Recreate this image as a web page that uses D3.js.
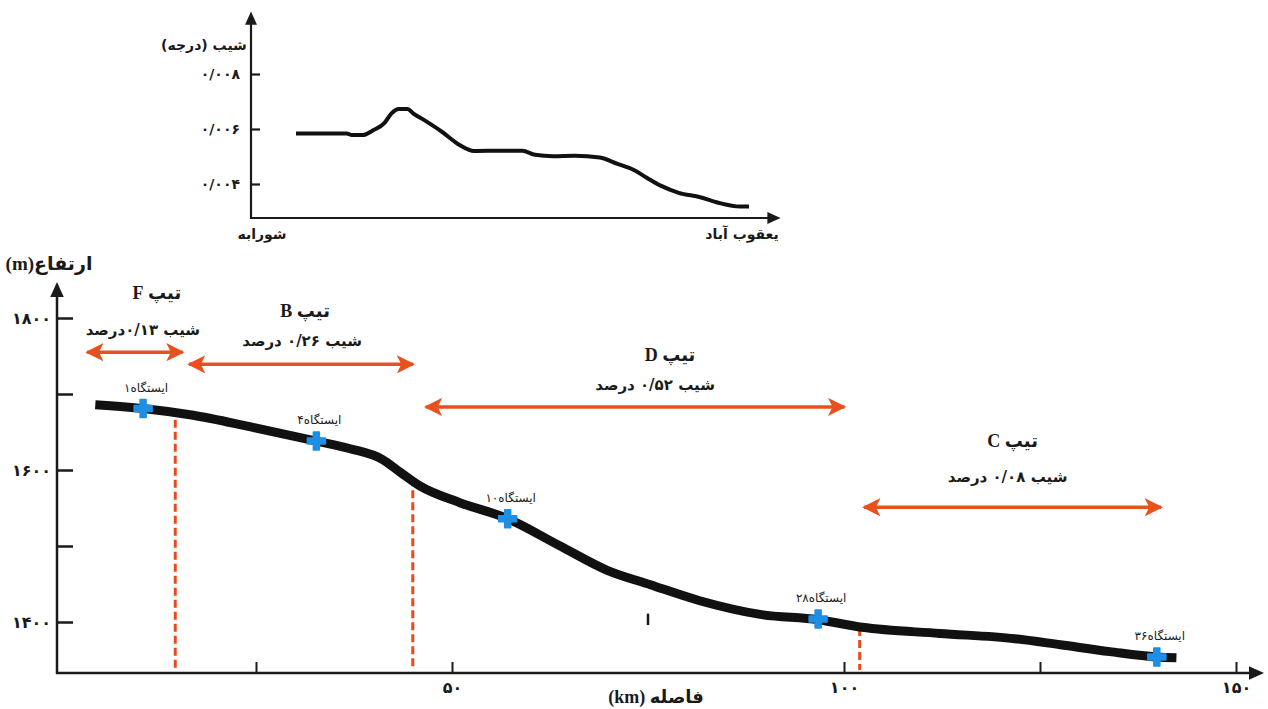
<!DOCTYPE html>
<html>
<head>
<meta charset="utf-8">
<script src="https://cdn.jsdelivr.net/npm/d3@7"></script>
<style>
  body { margin: 0; background: #fff; }
  svg { display: block; font-family: "Liberation Serif", "DejaVu Sans", serif; }
  .fa { direction: rtl; }
</style>
</head>
<body>
<div id="chart"></div>
<script>
// ---------------------------------------------
// ---------          Data             ---------
// ---------------------------------------------

// longitudinal profile (distance km, elevation m)
const profileKm   = [4.5, 10.6, 17.0, 24.2, 32.7, 37.0, 41.1, 43.4, 45.9, 51.0, 57.1, 63.8, 69.8, 75.3, 81.6, 89.3, 96.7, 102.3, 112.2, 121.8, 127.6, 133.9, 139.9, 142.4];
const profileElev = [1686, 1681, 1672, 1657, 1638, 1628, 1614, 1597, 1579, 1557, 1536, 1500, 1468, 1449, 1428, 1410, 1403, 1393, 1385, 1378, 1370, 1361, 1354, 1353];

// stations
const stationNames = ["ایستگاه۱", "ایستگاه۴", "ایستگاه۱۰", "ایستگاه۲۸", "ایستگاه۳۶"];
const stationKm    = [10.6, 32.7, 57.1, 96.7, 139.9];
const stationElev  = [1681, 1638, 1536, 1404, 1354];

// river types (segments)
const segTypes  = ["F", "B", "D", "C"];
const segSlope  = [0.13, 0.26, 0.52, 0.08];
const segStart  = [3.2, 16.2, 46.4, 102.3];
const segEnd    = [15.9, 45.3, 100.3, 140.7];
const segElev   = [1755, 1739, 1683, 1551];

// boundaries between types
const boundaryKm  = [14.7, 45.0, 102.0];
const boundaryTop = [1666, 1589, 1392];

// axis ticks
const xTicks = [25, 50, 100, 125, 150];
const xLabeled = [50, 100, 150];
const yTicks = [1400, 1500, 1600, 1700, 1800];
const yLabeled = [1400, 1600, 1800];
const strayTickKm = 75;

// inset: slope (degree) along the river
const insetKm    = [4.5, 20.0, 21.6, 24.9, 28.2, 31.5, 33.7, 35.9, 38.6, 40.3, 43.6, 49.1, 54.5, 58.9, 67.7, 73.7, 77.6, 83.1, 89.7, 97.4, 102.8, 107.8, 111.6, 116.0, 121.5, 128.1, 133.6, 140.2, 143.0];
const insetSlope = [0.00584, 0.00584, 0.00578, 0.00578, 0.00596, 0.00621, 0.00657, 0.00673, 0.00673, 0.00657, 0.00633, 0.00590, 0.00542, 0.00520, 0.00521, 0.00521, 0.00506, 0.00501, 0.00503, 0.00496, 0.00473, 0.00451, 0.00424, 0.00394, 0.00368, 0.00352, 0.00332, 0.00318, 0.00318];
const insetTicks = [0.004, 0.006, 0.008];

// ---------------------------------------------
// ---------        Helpers            ---------
// ---------------------------------------------

const faDigits = "۰۱۲۳۴۵۶۷۸۹";
function fa(v) {
  return String(v).replace(/\d/g, d => faDigits[d]).replace(".", "/");
}
function faSlope(v) {
  // 0.13 -> ۰/۱۳
  return fa(v.toFixed(2));
}

const width = 1268, height = 709;
const red = "#e8511e";
const dashRed = "#e84a1c";
const blue = "#1e8fe3";
const ink = "#1a1a1a";

const svg = d3.select("#chart")
  .append("svg")
    .attr("width", width)
    .attr("height", height);

const defs = svg.append("defs");
defs.append("marker")
    .attr("id", "axisArrow")
    .attr("viewBox", "0 0 10 10")
    .attr("refX", 2).attr("refY", 5)
    .attr("markerWidth", 6).attr("markerHeight", 6)
    .attr("markerUnits", "strokeWidth")
    .attr("orient", "auto")
  .append("path")
    .attr("d", "M0,0.5 L10,5 L0,9.5 z")
    .attr("fill", ink);
defs.append("marker")
    .attr("id", "redArrow")
    .attr("viewBox", "0 0 10 10")
    .attr("refX", 9).attr("refY", 5)
    .attr("markerWidth", 5.2).attr("markerHeight", 5.2)
    .attr("markerUnits", "strokeWidth")
    .attr("orient", "auto-start-reverse")
  .append("path")
    .attr("d", "M0,0 L10,5 L0,10 L2.5,5 z")
    .attr("fill", red);

// ---------------------------------------------
// ---------      Main profile chart    --------
// ---------------------------------------------

const x0 = 57, yBase = 673;
const x = d3.scaleLinear().domain([0, 150]).range([60, 1236]);
const y = d3.scaleLinear().domain([1400, 1800]).range([622, 318]);

// axis lines with arrows
svg.append("line")
    .attr("x1", x0).attr("y1", yBase + 1)
    .attr("x2", x0).attr("y2", 294)
    .attr("stroke", ink).attr("stroke-width", 2.5)
    .attr("marker-end", "url(#axisArrow)");
svg.append("line")
    .attr("x1", x0 - 1).attr("y1", yBase)
    .attr("x2", 1252).attr("y2", yBase)
    .attr("stroke", ink).attr("stroke-width", 2.5)
    .attr("marker-end", "url(#axisArrow)");

// Y axis
const yAxis = svg.append("g")
    .attr("transform", "translate(" + x0 + ",0)")
    .call(d3.axisLeft(y)
      .tickValues(yTicks)
      .tickSize(-16)
      .tickPadding(6)
      .tickFormat(d => yLabeled.includes(d) ? fa(d) : ""));
yAxis.select(".domain").remove();
yAxis.selectAll(".tick line").attr("stroke", ink).attr("stroke-width", 2.5);
yAxis.selectAll(".tick text")
    .attr("fill", ink)
    .attr("font-size", 16)
    .attr("font-weight", "bold")
    .attr("font-family", "DejaVu Sans");

// X axis
const xAxis = svg.append("g")
    .attr("transform", "translate(0," + yBase + ")")
    .call(d3.axisBottom(x)
      .tickValues(xTicks)
      .tickSize(-11)
      .tickPadding(9)
      .tickFormat(d => xLabeled.includes(d) ? fa(d) : ""));
xAxis.select(".domain").remove();
xAxis.selectAll(".tick line").attr("stroke", ink).attr("stroke-width", 2);
xAxis.selectAll(".tick text")
    .attr("fill", ink)
    .attr("font-size", 16)
    .attr("font-weight", "bold")
    .attr("font-family", "DejaVu Sans");

// stray tick mark in the middle of the plot
svg.append("line")
    .attr("x1", x(strayTickKm)).attr("y1", y(1411))
    .attr("x2", x(strayTickKm)).attr("y2", y(1396))
    .attr("stroke", ink).attr("stroke-width", 2.5);

// axis titles
svg.append("text")
    .attr("class", "fa")
    .attr("x", 49).attr("y", 270)
    .attr("text-anchor", "middle")
    .attr("font-size", 19)
    .attr("font-weight", "bold")
    .attr("fill", ink)
    .text("ارتفاع(m)");
svg.append("text")
    .attr("class", "fa")
    .attr("x", 656).attr("y", 703)
    .attr("text-anchor", "middle")
    .attr("font-size", 18)
    .attr("font-weight", "bold")
    .attr("fill", ink)
    .text("فاصله (km)");

// dashed boundaries
svg.append("g")
  .selectAll("line")
  .data(boundaryKm)
  .join("line")
    .attr("x1", d => x(d)).attr("x2", d => x(d))
    .attr("y1", (d, i) => y(boundaryTop[i]))
    .attr("y2", yBase - 3)
    .attr("stroke", dashRed)
    .attr("stroke-width", 3)
    .attr("stroke-dasharray", "8,4");

// profile line
const profile = profileKm.map((d, i) => ({ km: d, elev: profileElev[i] }));
svg.append("path")
    .datum(profile)
    .attr("fill", "none")
    .attr("stroke", "#111")
    .attr("stroke-width", 9)
    .attr("d", d3.line()
      .x(d => x(d.km))
      .y(d => y(d.elev))
      .curve(d3.curveMonotoneX));

// type arrows
const segs = segTypes.map((t, i) => ({
  type: t, slope: segSlope[i], start: segStart[i], end: segEnd[i], elev: segElev[i]
}));
// label offsets from the arrow centre (pixels)
const segLabelOffset = {
  F: { tx: 22, ty: -60, sx: 8, sy: -22 },
  B: { tx: 4, ty: -54, sx: 1, sy: -24 },
  D: { tx: 35, ty: -52, sx: 20, sy: -22 },
  C: { tx: 0, ty: -67, sx: -5, sy: -30 }
};

svg.append("g")
  .selectAll("line")
  .data(segs)
  .join("line")
    .attr("x1", d => x(d.start) + 2)
    .attr("x2", d => x(d.end) - 2)
    .attr("y1", d => y(d.elev))
    .attr("y2", d => y(d.elev))
    .attr("stroke", red)
    .attr("stroke-width", 3.5)
    .attr("marker-start", "url(#redArrow)")
    .attr("marker-end", "url(#redArrow)");

const segLabels = svg.append("g")
  .selectAll("g")
  .data(segs)
  .join("g")
    .attr("transform", d => "translate(" + (x(d.start) + x(d.end)) / 2 + "," + y(d.elev) + ")");

segLabels.append("text")
    .attr("class", "fa")
    .attr("x", d => segLabelOffset[d.type].tx)
    .attr("y", d => segLabelOffset[d.type].ty)
    .attr("dy", "0.35em")
    .attr("text-anchor", "middle")
    .attr("font-size", 18)
    .attr("font-weight", "bold")
    .attr("fill", ink)
    .text(d => "تیپ " + d.type);

segLabels.append("text")
    .attr("class", "fa")
    .attr("x", d => segLabelOffset[d.type].sx)
    .attr("y", d => segLabelOffset[d.type].sy)
    .attr("dy", "0.35em")
    .attr("text-anchor", "middle")
    .attr("font-size", 15)
    .attr("font-weight", "bold")
    .attr("font-family", "DejaVu Sans")
    .attr("fill", ink)
    .text(d => "شیب " + faSlope(d.slope) + (d.type === "F" ? "درصد" : " درصد"));

// stations
const stations = stationNames.map((n, i) => ({ name: n, km: stationKm[i], elev: stationElev[i] }));

svg.append("g")
  .selectAll("path")
  .data(stations)
  .join("path")
    .attr("transform", d => "translate(" + x(d.km) + "," + y(d.elev) + ")")
    .attr("d", d3.symbol().type(d3.symbolCross).size(180))
    .attr("fill", blue)
    .attr("stroke", blue)
    .attr("stroke-width", 1.5)
    .attr("stroke-linejoin", "round");

svg.append("g")
  .selectAll("text")
  .data(stations)
  .join("text")
    .attr("class", "fa")
    .attr("x", d => x(d.km) + 3)
    .attr("y", d => y(d.elev) - 21)
    .attr("dy", "0.35em")
    .attr("text-anchor", "middle")
    .attr("font-size", 12)
    .attr("font-family", "DejaVu Sans")
    .attr("fill", ink)
    .text(d => d.name);

// ---------------------------------------------
// ---------       Inset slope chart     -------
// ---------------------------------------------

const ix0 = 251, iyBase = 218;
const ix = d3.scaleLinear().domain([4.5, 143]).range([296, 749]);
const iy = d3.scaleLinear().domain([0.004, 0.008]).range([184, 74]);

svg.append("line")
    .attr("x1", ix0).attr("y1", iyBase + 1)
    .attr("x2", ix0).attr("y2", 22)
    .attr("stroke", ink).attr("stroke-width", 2.2)
    .attr("marker-end", "url(#axisArrow)");
svg.append("line")
    .attr("x1", ix0 - 1).attr("y1", iyBase)
    .attr("x2", 770).attr("y2", iyBase)
    .attr("stroke", ink).attr("stroke-width", 2.2)
    .attr("marker-end", "url(#axisArrow)");

const iyAxis = svg.append("g")
    .attr("transform", "translate(" + ix0 + ",0)")
    .call(d3.axisLeft(iy)
      .tickValues(insetTicks)
      .tickSize(-9)
      .tickPadding(11)
      .tickFormat(d => fa(d3.format(".3f")(d))));
iyAxis.select(".domain").remove();
iyAxis.selectAll(".tick line").attr("stroke", ink).attr("stroke-width", 2.2);
iyAxis.selectAll(".tick text")
    .attr("fill", ink)
    .attr("font-size", 14)
    .attr("font-weight", "bold")
    .attr("font-family", "DejaVu Sans");

svg.append("text")
    .attr("class", "fa")
    .attr("x", 204).attr("y", 50)
    .attr("text-anchor", "middle")
    .attr("font-size", 14)
    .attr("font-weight", "bold")
    .attr("font-family", "DejaVu Sans")
    .attr("fill", ink)
    .text("شیب (درجه)");

svg.append("text")
    .attr("class", "fa")
    .attr("x", 262).attr("y", 239)
    .attr("text-anchor", "middle")
    .attr("font-size", 14)
    .attr("font-weight", "bold")
    .attr("font-family", "DejaVu Sans")
    .attr("fill", ink)
    .text("شورابه");

svg.append("text")
    .attr("class", "fa")
    .attr("x", 742).attr("y", 239)
    .attr("text-anchor", "middle")
    .attr("font-size", 14)
    .attr("font-weight", "bold")
    .attr("font-family", "DejaVu Sans")
    .attr("fill", ink)
    .text("یعقوب آباد");

const inset = insetKm.map((d, i) => ({ km: d, s: insetSlope[i] }));
svg.append("path")
    .datum(inset)
    .attr("fill", "none")
    .attr("stroke", "#111")
    .attr("stroke-width", 4)
    .attr("stroke-linejoin", "round")
    .attr("d", d3.line()
      .x(d => ix(d.km))
      .y(d => iy(d.s))
      .curve(d3.curveMonotoneX));
</script>
</body>
</html>
